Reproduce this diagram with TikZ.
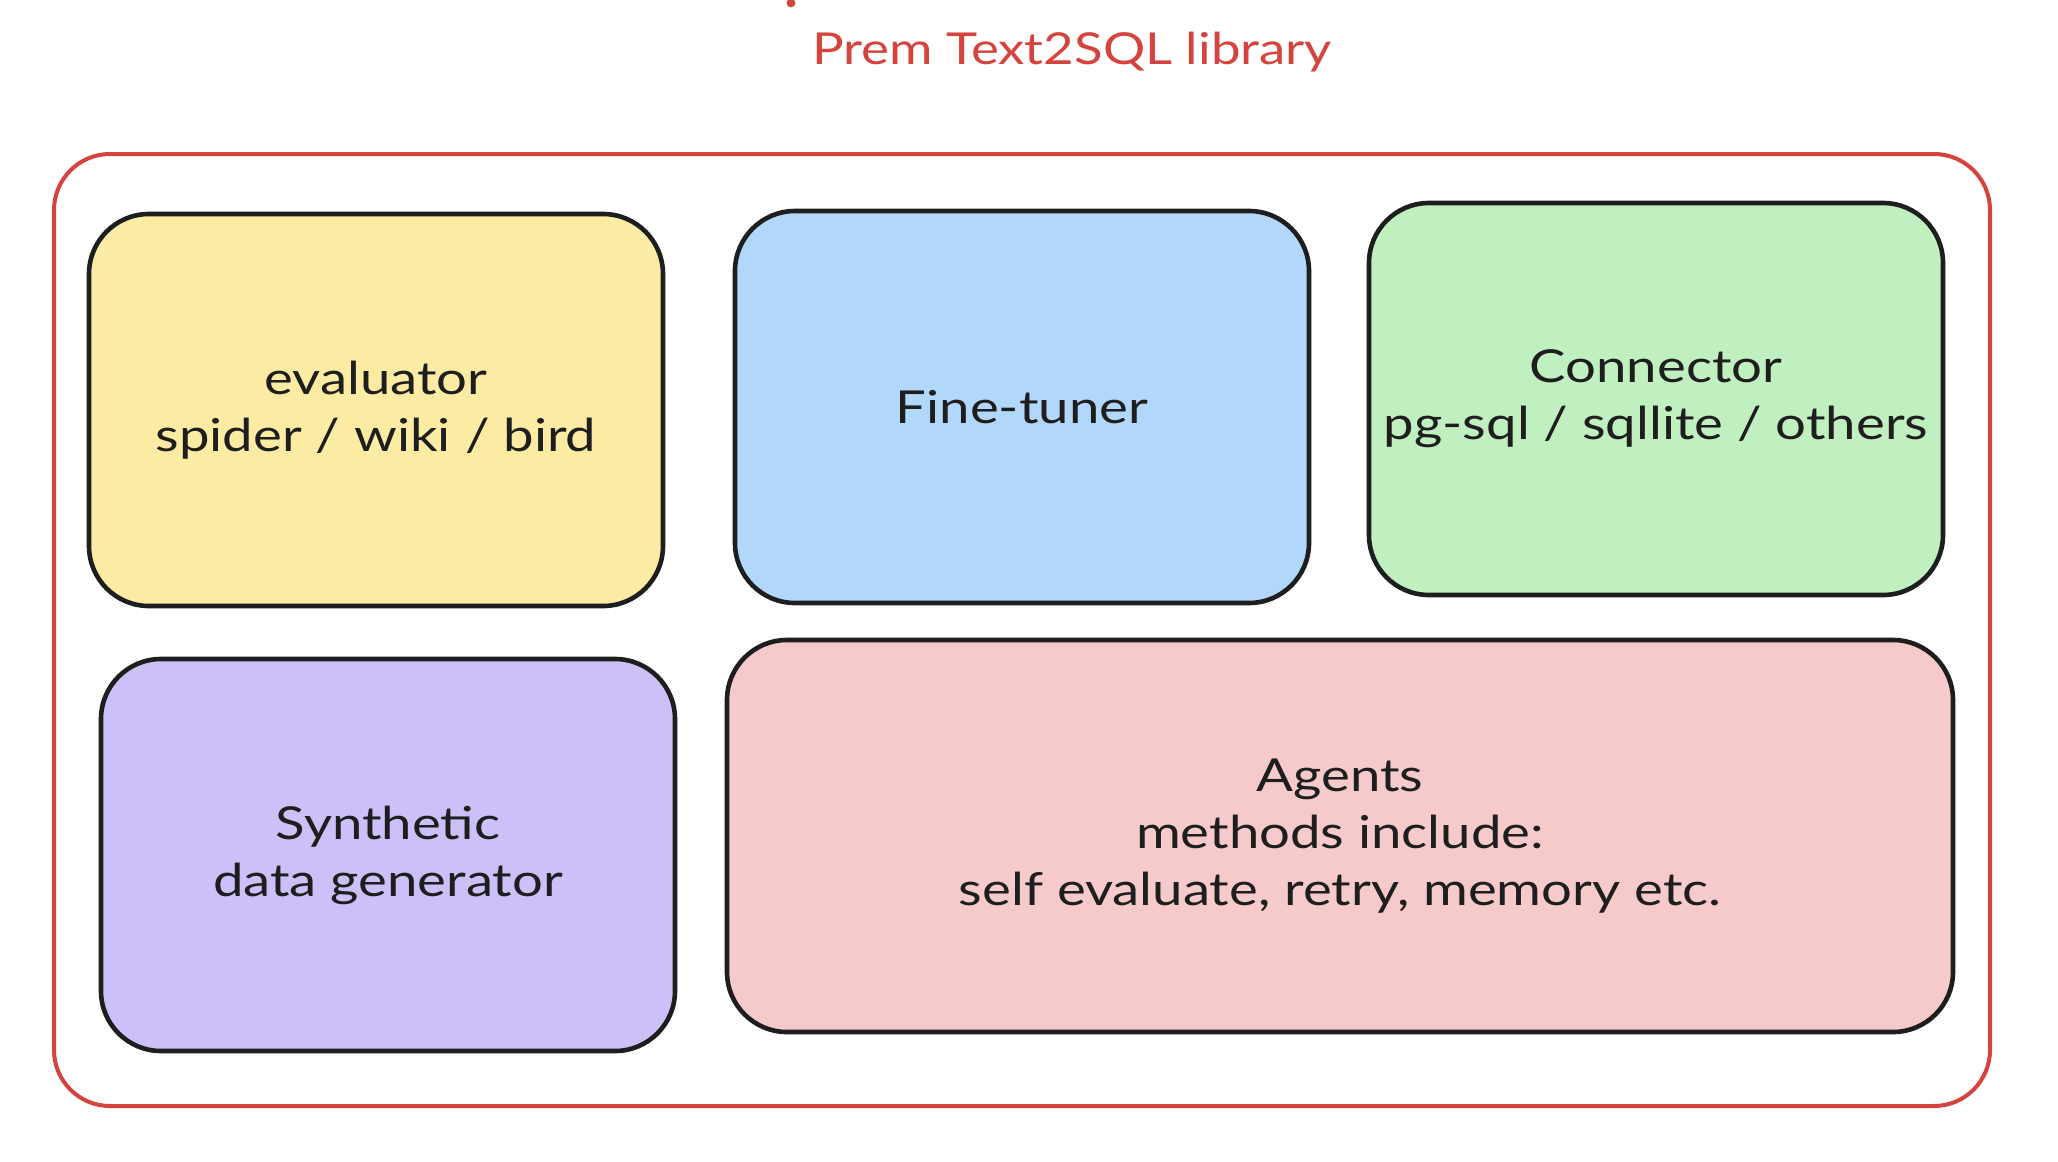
\documentclass[tikz,border=0pt]{standalone}
\usepackage{fontspec}
\setmainfont{Lato}[FakeStretch=1.2]
\definecolor{frame}{HTML}{D4433D}
\definecolor{ink}{HTML}{1E1E1E}
\definecolor{cyellow}{HTML}{FCEBA2}
\definecolor{cblue}{HTML}{B1D7FA}
\definecolor{cgreen}{HTML}{C0F0C0}
\definecolor{cpurple}{HTML}{CDC0F8}
\definecolor{cpink}{HTML}{F6CACA}
\tikzset{
  box/.style={draw=ink, line width=2.3pt, rounded corners=30pt, align=center,
    font=\fontsize{22.7}{28.5}\selectfont, text=ink, inner sep=0pt},
}
\begin{document}
\begin{tikzpicture}[x=0.5pt,y=-0.5pt]
\useasboundingbox (0,0) rectangle (2058,1162);
\fill[white] (0,0) rectangle (2058,1162);
% cut-off glyph at the top
\fill[frame] (791,3) circle (2.2pt);
\node[text=frame, font=\fontsize{22}{28}\selectfont] (title) at (1072,52) {Prem Text2SQL library};
\node[draw=frame, line width=2pt, rounded corners=28pt, minimum width=968pt, minimum height=476pt, inner sep=0pt] (lib) at (1022,630) {};
\node[box, fill=cyellow, minimum width=287pt, minimum height=196pt] (eval) at (376,410) {evaluator\\spider / wiki / bird};
\node[box, fill=cblue, minimum width=287pt, minimum height=196pt] (ft) at (1022,407) {Fine-tuner};
\node[box, fill=cgreen, minimum width=287pt, minimum height=196pt] (conn) at (1656,399) {Connector\\pg-sql / sqllite / others};
\node[box, fill=cpurple, minimum width=287pt, minimum height=196pt] (synth) at (388,855) {Synthetic\\data generator};
\node[box, fill=cpink, minimum width=613pt, minimum height=196pt] (agents) at (1340,836) {Agents\\methods include:\\self evaluate, retry, memory etc.};
\end{tikzpicture}
\end{document}
